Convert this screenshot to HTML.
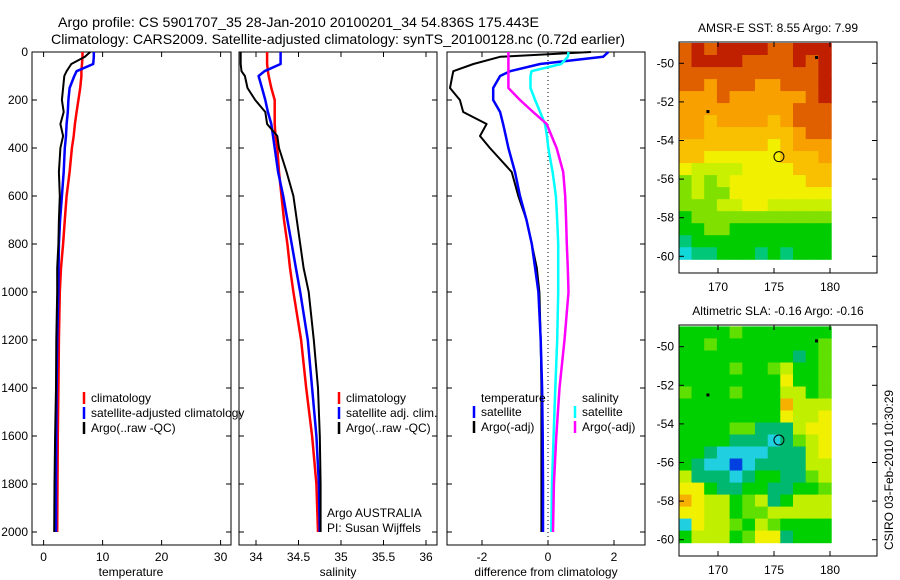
<!DOCTYPE html>
<html><head><meta charset="utf-8"><style>
html,body{margin:0;padding:0;background:#fff}
svg{display:block;font-family:"Liberation Sans",sans-serif}
text{font-size:12px;fill:#000}
</style></head><body>
<svg id="chart" width="900" height="580" viewBox="0 0 900 580">
<text x="58" y="27" style="font-size:14px" textLength="481" lengthAdjust="spacingAndGlyphs">Argo profile: CS 5901707_35 28-Jan-2010 20100201_34 54.836S 175.443E</text>
<text x="51" y="44" style="font-size:14px" textLength="574" lengthAdjust="spacingAndGlyphs">Climatology: CARS2009. Satellite-adjusted climatology: synTS_20100128.nc (0.72d earlier)</text>
<g id="g"></g>
</svg>
<script>
const depths=[0,20,50,80,100,150,200,250,300,350,400,500,600,700,800,900,1000,1200,1400,1600,1800,2000];
const tempClim=[6.6,6.6,6.5,6.4,6.4,6.2,5.9,5.6,5.3,5.1,4.8,4.4,3.9,3.6,3.3,2.95,2.75,2.6,2.5,2.4,2.35,2.3];
const tempSat=[8.5,8.5,8.4,5.6,5.2,4.4,4.2,4.1,3.9,3.8,3.6,3.4,3.1,2.8,2.6,2.55,2.5,2.3,2.2,2.15,2.1,2.1];
const tempArgo=[7.9,7.0,4.7,3.9,3.5,3.3,3.1,3.4,2.85,3.3,2.85,2.6,2.75,2.6,2.5,2.3,2.3,2.15,2.1,1.95,1.85,1.8];
const salClim=[34.13,34.13,34.13,34.14,34.15,34.18,34.22,34.22,34.22,34.23,34.25,34.27,34.30,34.33,34.37,34.40,34.44,34.53,34.59,34.66,34.71,34.73];
const salSat=[34.29,34.29,34.29,34.10,34.03,34.07,34.11,34.14,34.18,34.20,34.22,34.26,34.32,34.37,34.42,34.47,34.52,34.61,34.66,34.71,34.74,34.75];
const salArgo=[33.82,33.82,33.82,33.83,33.87,33.90,33.99,34.11,34.13,34.25,34.27,34.36,34.44,34.48,34.52,34.56,34.62,34.68,34.73,34.75,34.76,34.76];
const dTempArgo=[1.3,-1.45,-2.26,-2.87,-2.9,-2.97,-2.67,-2.57,-1.86,-2.06,-1.76,-1.10,-0.90,-0.65,-0.49,-0.34,-0.26,-0.22,-0.2,-0.2,-0.2,-0.2];
const dTempSat=[1.83,1.67,-0.24,-1.15,-1.45,-1.66,-1.66,-1.45,-1.36,-1.28,-1.2,-1.0,-0.85,-0.65,-0.49,-0.39,-0.29,-0.22,-0.18,-0.16,-0.15,-0.15];
const dSalSat=[0.62,0.6,0.4,-0.5,-0.53,-0.53,-0.39,-0.24,-0.09,-0.03,0.01,0.14,0.24,0.28,0.31,0.31,0.31,0.28,0.22,0.17,0.12,0.1];
const dSalArgo=[-1.2,-1.2,-1.2,-1.2,-1.2,-1.2,-0.85,-0.45,-0.04,0.11,0.26,0.46,0.52,0.55,0.57,0.6,0.62,0.5,0.35,0.25,0.18,0.15];
const depthTicks=[0,200,400,600,800,1000,1200,1400,1600,1800,2000];
const tempTicks=[0,10,20,30];
const salTicks=[34,34.5,35,35.5,36];
const diffTicks=[-2,0,2];
const lonTicks=[170,175,180];
const latTicks=[-50,-52,-54,-56,-58,-60];
const sstRows=["898999988999","899998888989","888888888889","887888778889","777877777789","777777777888","776777767888","776666666788","666666656777","665555556667","544445555666","343455555566","343355555555","333445544444","233333333333","223322222222","122222222222","011222121222"];
const slaRows=["333343333333","334333333334","333333333234","333343345334","333333336334","433343335534","333333337555","333333336556","333344222566","333322212456","332111122256","321101222255","522212332245","663223322334","765534523555","665534455555","165543543333","355534662333"];
const argoPos=[175.443,-54.836];
const otherFloats=[[178.8,-49.7],[169.1,-52.5]];

const NS="http://www.w3.org/2000/svg";
const G=document.getElementById('g');
function el(tag,attrs,parent,txt){const e=document.createElementNS(NS,tag);for(const k in attrs)e.setAttribute(k,attrs[k]);if(txt!==undefined)e.textContent=txt;(parent||G).appendChild(e);return e;}
const yD=d=>52+0.24*d;
const xT=t=>43.6+5.9*t;
const xS=s=>256+85*(s-34);
const xDf=v=>548+33*v;
const panels=[[32,231],[239,437],[447,645]];
const pTop=52,pBot=545;

panels.forEach((p,i)=>{
  const r=el('rect',{x:p[0],y:pTop,width:p[1]-p[0],height:pBot-pTop,fill:'none',stroke:'#000','stroke-width':1});
  
  
  depthTicks.forEach(d=>{
    el('line',{x1:p[0],x2:p[0]+5,y1:yD(d),y2:yD(d),stroke:'#000'});
    el('line',{x1:p[1]-5,x2:p[1],y1:yD(d),y2:yD(d),stroke:'#000'});
  });
});
depthTicks.forEach(d=>{
  const t=el('text',{x:28,y:yD(d)+4,'text-anchor':'end'},G,String(d));
  
  
});
function xticks(ticks,fx,fmt){
  ticks.forEach(v=>{
    const x=fx(v);
    el('line',{x1:x,x2:x,y1:pTop,y2:pTop+5,stroke:'#000'});
    el('line',{x1:x,x2:x,y1:pBot-5,y2:pBot,stroke:'#000'});
    const t=el('text',{x:x,y:561,'text-anchor':'middle'},G,fmt(v));
    
    
  });
}
xticks(tempTicks,xT,String);
xticks(salTicks,xS,String);
xticks(diffTicks,xDf,String);
[[131,'temperature','temperature-axis-title'],[338,'salinity','salinity-axis-title'],[546,'difference from climatology','difference-axis-title']].forEach(a=>{
  const t=el('text',{x:a[0],y:576,'text-anchor':'middle'},G,a[1]);
  
  
});
const z=el('line',{x1:xDf(0),x2:xDf(0),y1:pTop,y2:pBot,stroke:'#000','stroke-dasharray':'1,3'});



function series(vals,fx,color,w,name){
  const pts=vals.map((v,i)=>fx(v).toFixed(1)+','+yD(depths[i]).toFixed(1)).join(' ');
  const pl=el('polyline',{points:pts,fill:'none',stroke:color,'stroke-width':w,'stroke-linejoin':'round'});
  
  
}
series(tempClim,xT,'#f00',2.5,'temp-climatology-line');
series(tempSat,xT,'#00f',2.5,'temp-satellite-line');
series(tempArgo,xT,'#000',2,'temp-argo-line');
series(salClim,xS,'#f00',2.5,'sal-climatology-line');
series(salSat,xS,'#00f',2.5,'sal-satellite-line');
series(salArgo,xS,'#000',2,'sal-argo-line');
series(dTempArgo,xDf,'#000',2,'diff-temp-argo-line');
series(dTempSat,xDf,'#00f',2.5,'diff-temp-satellite-line');
series(dSalSat,xDf,'#0ff',2.5,'diff-sal-satellite-line');
series(dSalArgo,xDf,'#f0f',2.5,'diff-sal-argo-line');

function legend(x,y,color,label,name){
  if(color){el('line',{x1:x,x2:x,y1:y-10,y2:y+2,stroke:color,'stroke-width':2.5});}
  const t=el('text',{x:x+7,y:y},G,label);
  
  
}
legend(84,402,'#f00','climatology','legend-climatology');
legend(84,417,'#00f','satellite-adjusted climatology','legend-satellite-adjusted');
legend(84,432,'#000','Argo(..raw -QC)','legend-argo-raw');
legend(339,402,'#f00','climatology','legend-sal-climatology');
legend(339,417,'#00f','satellite adj. clim.','legend-sal-satellite');
legend(339,432,'#000','Argo(..raw -QC)','legend-sal-argo');
legend(474,402,null,'temperature','legend-diff-temperature');
legend(474,416,'#00f','satellite','legend-diff-temp-satellite');
legend(474,431,'#000','Argo(-adj)','legend-diff-temp-argo');
legend(575,402,null,'salinity','legend-diff-salinity');
legend(575,416,'#0ff','satellite','legend-diff-sal-satellite');
legend(575,431,'#f0f','Argo(-adj)','legend-diff-sal-argo');
[['Argo AUSTRALIA',517],['PI: Susan Wijffels',532]].forEach((a,i)=>{
  const t=el('text',{x:327,y:a[1]},G,a[0]);
  
  
});

const sstCols=['#10d8d8','#00c878','#00cc00','#80e000','#c8f000','#f0f000','#f8c000','#f8a000','#e06000','#c02000'];
const slaCols=['#0040e0','#20d0e0','#00b870','#00d000','#60e000','#c0f000','#f0f000','#f8b000'];
const xLon=l=>718+11.2*(l-170);
function drawMap(y0,latA,rows,cols,title,name){
  const yLat=l=>latA+19.3*(-50-l);
  const g=el('g',{});
  
  
  const x0=xLon(166.5),x1=xLon(180.1),yt=yLat(-48.95),yb=yLat(-60.15);
  const nr=rows.length,nc=rows[0].length,cw=(x1-x0)/nc,ch=(yb-yt)/nr;
  rows.forEach((row,r)=>{for(let c=0;c<nc;c++){
    el('rect',{x:(x0+c*cw).toFixed(1),y:(yt+r*ch).toFixed(1),width:(cw+0.6).toFixed(1),height:(ch+0.6).toFixed(1),fill:cols[+row[c]]},g);
  }});
  el('rect',{x:679,y:y0,width:198,height:231,fill:'none',stroke:'#000'},g);
  lonTicks.forEach(l=>{const x=xLon(l);
    el('line',{x1:x,x2:x,y1:y0,y2:y0+5,stroke:'#000'},g);
    el('line',{x1:x,x2:x,y1:y0+226,y2:y0+231,stroke:'#000'},g);
    const t=el('text',{x:x,y:y0+249,'text-anchor':'middle'},g,String(l));
    
    
  });
  latTicks.forEach(l=>{const y=yLat(l);
    el('line',{x1:679,x2:684,y1:y,y2:y,stroke:'#000'},g);
    el('line',{x1:872,x2:877,y1:y,y2:y,stroke:'#000'},g);
    const t=el('text',{x:674,y:y+4,'text-anchor':'end'},g,String(l));
    
    
  });
  const c=el('circle',{cx:xLon(argoPos[0]),cy:yLat(argoPos[1]),r:5,fill:'none',stroke:'#000','stroke-width':1},g);
  
  
  otherFloats.forEach(p=>{el('rect',{x:xLon(p[0])-1.5,y:yLat(p[1])-1.5,width:3,height:3,fill:'#000'},g);});
  const t=el('text',{x:778,y:y0-10,'text-anchor':'middle'},g,title);
  
  
}
drawMap(42,63.3,sstRows,sstCols,'AMSR-E SST: 8.55 Argo: 7.99','sst-map');
drawMap(325,346.7,slaRows,slaCols,'Altimetric SLA: -0.16 Argo: -0.16','sla-map');
const cs=el('text',{x:0,y:0,'text-anchor':'middle',transform:'translate(893,470) rotate(-90)'},G,'CSIRO 03-Feb-2010 10:30:29');


</script>
</body></html>
